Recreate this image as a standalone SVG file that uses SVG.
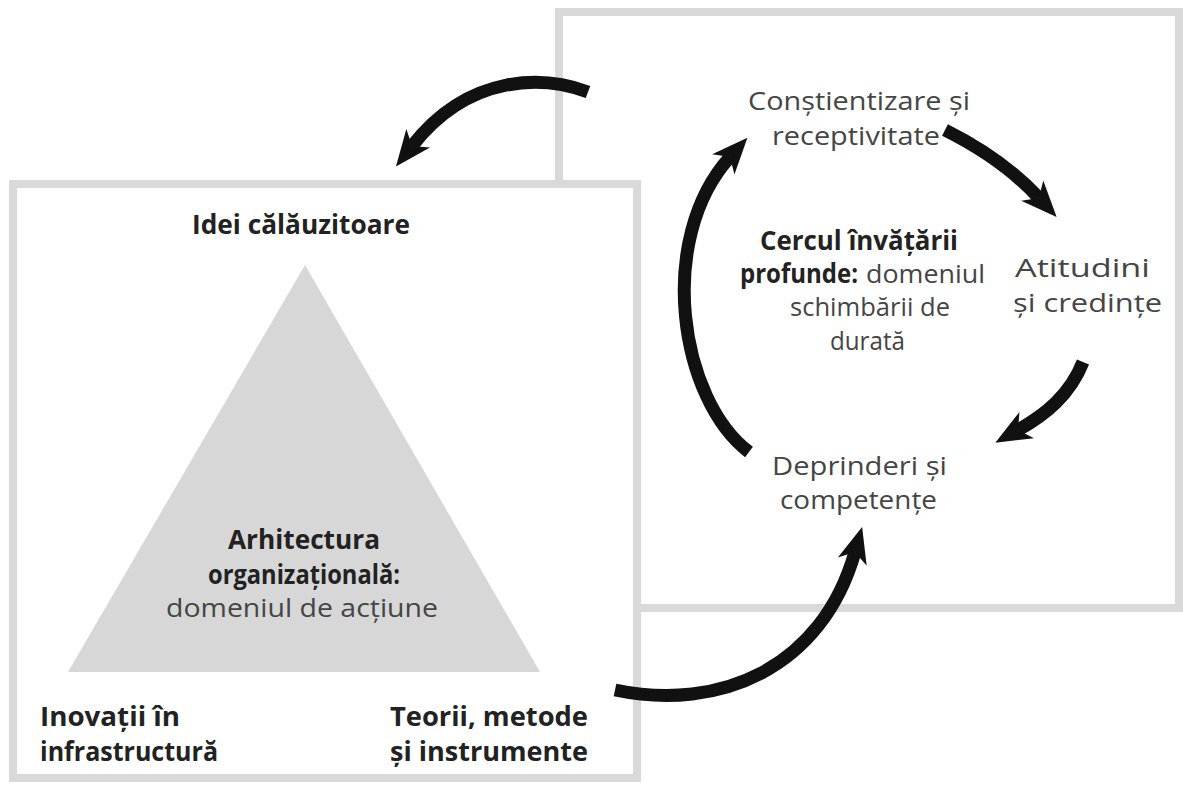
<svg xmlns="http://www.w3.org/2000/svg" width="1183" height="785" viewBox="0 0 1183 785">
  <style>
    .frame { fill: #ffffff; stroke: #d9d9d9; stroke-width: 8; }
    .tri { fill: #d7d7d7; }
    .t { font-family: "Open Sans", "Noto Sans", sans-serif; font-size: 26px; }
    .b { font-weight: 700; fill: #222222; }
    .r { font-weight: 400; fill: #454545; }
    .arrow { fill: none; stroke: #111111; stroke-width: 13; stroke-linecap: butt; marker-end: url(#head); }
  </style>
  <defs>
    <marker id="head" markerUnits="userSpaceOnUse" markerWidth="44" markerHeight="40" refX="10" refY="18" orient="auto" overflow="visible">
      <path d="M10,18 L0,3 L36,18 L0,33 Z" fill="#111111"/>
    </marker>
  </defs>

  <!-- learning circle panel -->
  <g id="circle-panel">
    <rect class="frame" x="559" y="12" width="620" height="596"/>
    <text class="t r" x="748" y="110" textLength="222" lengthAdjust="spacingAndGlyphs">Conștientizare și</text>
    <text class="t r" x="772" y="145" textLength="168" lengthAdjust="spacingAndGlyphs">receptivitate</text>
  </g>

  <!-- organizational architecture panel -->
  <g id="architecture-panel">
    <rect class="frame" x="13" y="184" width="624" height="594"/>
    <polygon class="tri" points="305,265 540,672 68,672"/>
  </g>

  <g id="idei">
    <text class="t b" x="192" y="234" textLength="218" lengthAdjust="spacingAndGlyphs">Idei călăuzitoare</text>
  </g>

  <g id="arhitectura">
    <text class="t b" x="228" y="549" textLength="152" lengthAdjust="spacingAndGlyphs">Arhitectura</text>
    <text class="t b" x="208" y="584" textLength="192" lengthAdjust="spacingAndGlyphs">organizațională:</text>
    <text class="t r" x="166" y="617" textLength="272" lengthAdjust="spacingAndGlyphs">domeniul de acțiune</text>
  </g>

  <g id="inovatii">
    <text class="t b" x="40" y="726" textLength="140" lengthAdjust="spacingAndGlyphs">Inovații în</text>
    <text class="t b" x="40" y="761" textLength="178" lengthAdjust="spacingAndGlyphs">infrastructură</text>
  </g>

  <g id="teorii">
    <text class="t b" x="390" y="726" textLength="198" lengthAdjust="spacingAndGlyphs">Teorii, metode</text>
    <text class="t b" x="390" y="761" textLength="198" lengthAdjust="spacingAndGlyphs">și instrumente</text>
  </g>

  <g id="cercul">
    <text class="t b" x="760" y="250" textLength="198" lengthAdjust="spacingAndGlyphs">Cercul învățării</text>
    <text class="t b" x="740" y="283" textLength="118" lengthAdjust="spacingAndGlyphs">profunde:</text>
    <text class="t r" x="866" y="283" textLength="119" lengthAdjust="spacingAndGlyphs">domeniul</text>
    <text class="t r" x="790" y="316" textLength="160" lengthAdjust="spacingAndGlyphs">schimbării de</text>
    <text class="t r" x="830" y="350" textLength="75" lengthAdjust="spacingAndGlyphs">durată</text>
  </g>

  <g id="atitudini">
    <text class="t r" x="1015" y="277" textLength="135" lengthAdjust="spacingAndGlyphs">Atitudini</text>
    <text class="t r" x="1013" y="312" textLength="149" lengthAdjust="spacingAndGlyphs">și credințe</text>
  </g>

  <g id="deprinderi">
    <text class="t r" x="772" y="475" textLength="175" lengthAdjust="spacingAndGlyphs">Deprinderi și</text>
    <text class="t r" x="780" y="509" textLength="157" lengthAdjust="spacingAndGlyphs">competențe</text>
  </g>

  <!-- connectors -->
  <g id="connectors">
    <path class="arrow" d="M588,92 C545,76 470,72 412,146"/>
    <path class="arrow" d="M945,130 C985,150 1015,172 1039,198"/>
    <path class="arrow" d="M1083,362 C1070,395 1045,415 1018,430"/>
    <path class="arrow" d="M749,452 C680,400 655,240 730,157"/>
    <path class="arrow" d="M615,690 C720,712 822,668 855,552"/>
  </g>
</svg>
